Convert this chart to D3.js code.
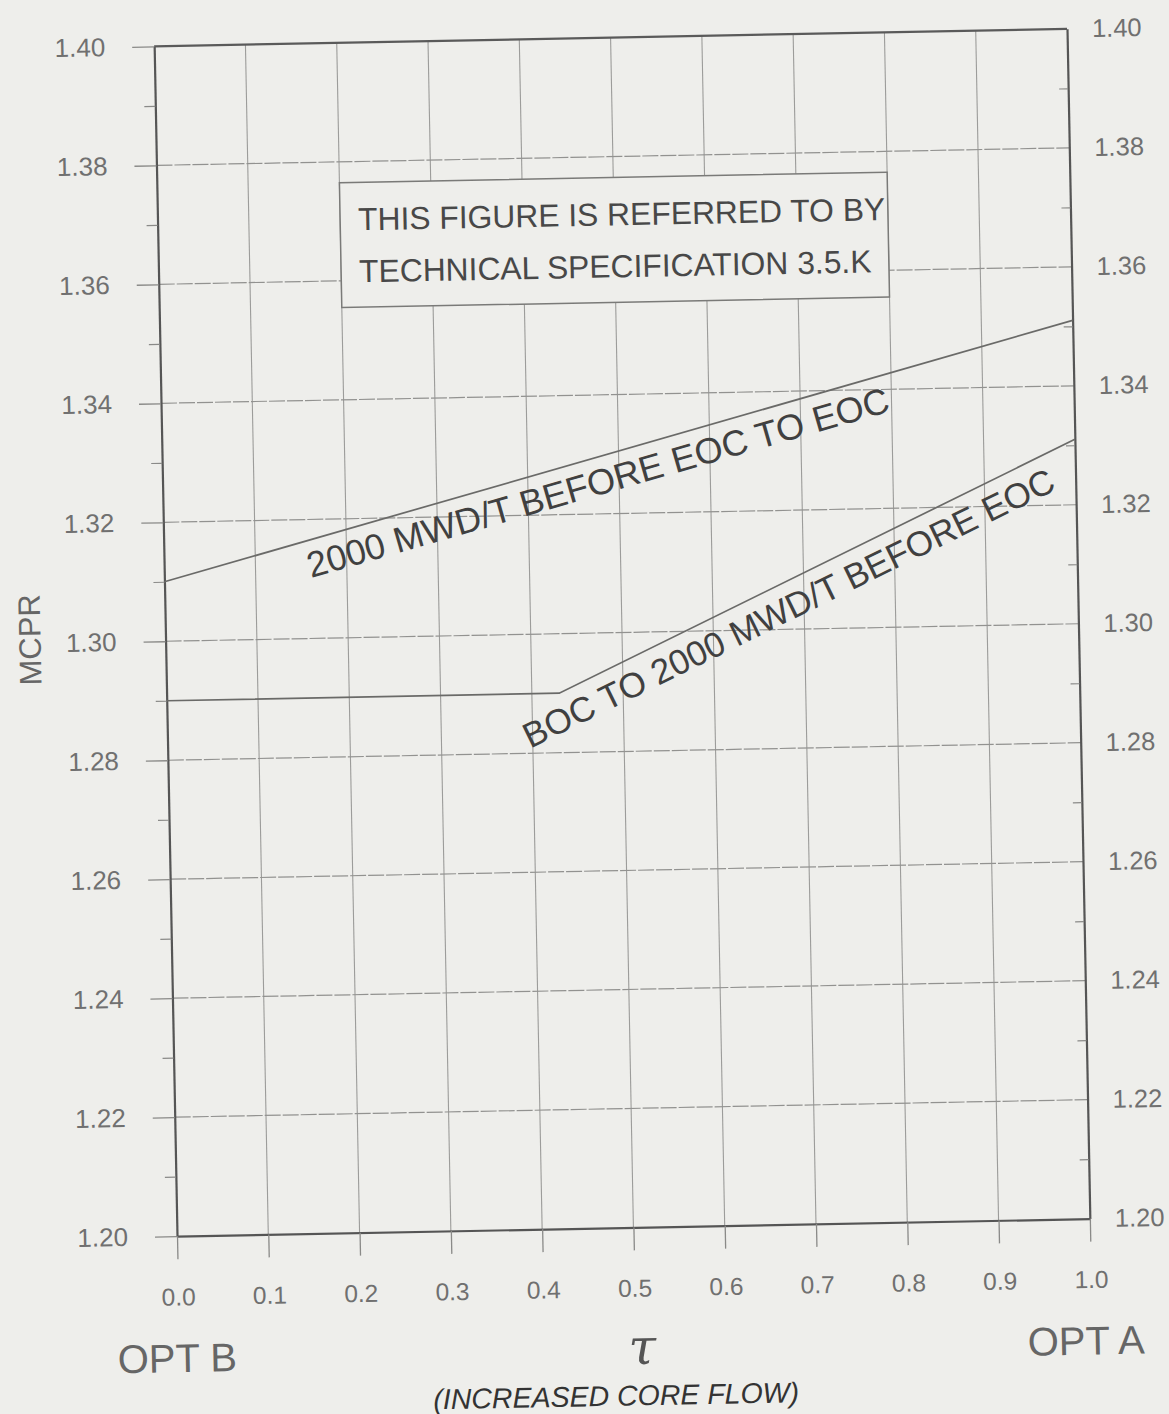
<!DOCTYPE html>
<html><head><meta charset="utf-8">
<script src="https://cdn.jsdelivr.net/npm/d3@7"></script>
<style>
html,body{margin:0;padding:0;background:#eeeeeb;}
svg{display:block;}
text{font-family:"Liberation Sans",Arial,Helvetica,sans-serif;}
</style></head><body>
<svg id="chart" width="1169" height="1414"></svg>
<script>
// ---- data ----
const tauTicks = [0.0,0.1,0.2,0.3,0.4,0.5,0.6,0.7,0.8,0.9,1.0];
const mcprTicks = [1.20,1.22,1.24,1.26,1.28,1.30,1.32,1.34,1.36,1.38,1.40];
const mcprMinorTicks = [1.21,1.23,1.25,1.27,1.29,1.31,1.33,1.35,1.37,1.39];
const series1Name = "2000 MWD/T BEFORE EOC TO EOC";
const series1Tau  = [0.0, 1.0];
const series1MCPR = [1.310, 1.351];
const series2Name = "BOC TO 2000 MWD/T BEFORE EOC";
const series2Tau  = [0.0, 0.43, 1.0];
const series2MCPR = [1.290, 1.290, 1.331];
const noteLines = ["THIS FIGURE IS REFERRED TO BY", "TECHNICAL SPECIFICATION 3.5.K"];
const yTitle = "MCPR";
const xSymbol = "\u03C4";
const xSubtitle = "(INCREASED CORE FLOW)";
const leftEndLabel = "OPT B";
const rightEndLabel = "OPT A";

// ---- layout ----
const W = 1169, H = 1414;
const m = {left:165.5, top:37.5};
const pw = 913, ph = 1190;
const bg = "#eeeeeb";

const svg = d3.select("#chart");
svg.append("rect").attr("width",W).attr("height",H).attr("fill",bg);

const g = svg.append("g").attr("transform","rotate(-1.1 622 632.5)")
  .append("g").attr("transform",`translate(${m.left},${m.top})`);

const x = d3.scaleLinear().domain([0,1]).range([0,pw]);
const y = d3.scaleLinear().domain([1.2,1.4]).range([ph,0]);

// grid
g.append("g").selectAll("line").data(tauTicks.slice(1,-1)).join("line")
  .attr("x1",d=>x(d)).attr("x2",d=>x(d)).attr("y1",0).attr("y2",ph)
  .attr("stroke","#9c9c9a").attr("stroke-width",1.1);
g.append("g").selectAll("line").data(mcprTicks.slice(1,-1)).join("line")
  .attr("x1",0).attr("x2",pw).attr("y1",d=>y(d)).attr("y2",d=>y(d))
  .attr("stroke","#929290").attr("stroke-width",1.2).attr("stroke-dasharray","16 2");

// note box
const bx0 = x(0.2), bx1 = x(0.8), by0 = y(1.3765), by1 = y(1.3555);
g.append("rect").attr("x",bx0).attr("y",by0).attr("width",bx1-bx0).attr("height",by1-by0)
  .attr("fill",bg).attr("stroke","#7a7a78").attr("stroke-width",1.5);
g.append("g").selectAll("text").data(noteLines).join("text")
  .attr("x",bx0+18).attr("y",(d,i)=>by0+48+i*52)
  .attr("font-size",31.8).attr("fill","#484848").text(d=>d);

// axes styling helper
function styleAxis(sel, fs, col){
  sel.attr("font-family",null).attr("font-size",null);
  sel.selectAll("text").attr("font-size",fs).attr("fill",col)
     .style("font-family",'"Liberation Sans",Arial,sans-serif');
  sel.selectAll(".tick line").attr("stroke","#8a8a88").attr("stroke-width",1.3);
}

// left axis
const la = g.append("g").call(d3.axisLeft(y).tickValues(mcprTicks).tickSize(22).tickSizeOuter(0)
  .tickPadding(27).tickFormat(d3.format(".2f")));
styleAxis(la, 26, "#707070");
la.select(".domain").attr("stroke","#555").attr("stroke-width",2.2);
const lm = g.append("g").call(d3.axisLeft(y).tickValues(mcprMinorTicks).tickSize(11).tickFormat(""));
lm.select(".domain").remove();
lm.selectAll(".tick line").attr("stroke","#8a8a88").attr("stroke-width",1.2);

// right axis
const ra = g.append("g").attr("transform",`translate(${pw},0)`)
  .call(d3.axisRight(y).tickValues(mcprTicks).tickSize(0).tickSizeOuter(0)
  .tickPadding(25).tickFormat(d3.format(".2f")));
styleAxis(ra, 25.5, "#707070");
ra.select(".domain").attr("stroke","#555").attr("stroke-width",2.2);
const rm = g.append("g").attr("transform",`translate(${pw},0)`)
  .call(d3.axisRight(y).tickValues(mcprMinorTicks).tickSize(-9).tickFormat(""));
rm.select(".domain").remove();
rm.selectAll(".tick line").attr("stroke","#8a8a88").attr("stroke-width",1.2);

// bottom axis
const ba = g.append("g").attr("transform",`translate(0,${ph})`)
  .call(d3.axisBottom(x).tickValues(tauTicks).tickSize(23).tickSizeOuter(0)
  .tickPadding(29).tickFormat(d3.format(".1f")));
styleAxis(ba, 24.5, "#707070");
ba.select(".domain").attr("stroke","#555").attr("stroke-width",2.2);

// top frame
g.append("line").attr("x1",0).attr("x2",pw).attr("y1",0).attr("y2",0)
  .attr("stroke","#5a5a5a").attr("stroke-width",2.2);

// data lines
const line = d3.line().x(d=>x(d[0])).y(d=>y(d[1]));
const s1 = series1Tau.map((t,i)=>[t,series1MCPR[i]]);
const s2 = series2Tau.map((t,i)=>[t,series2MCPR[i]]);
[s1,s2].forEach(s=>{
  g.append("path").datum(s).attr("d",line).attr("fill","none")
    .attr("stroke","#6a6a68").attr("stroke-width",1.7);
});

// labels along lines
function lineLabel(seg, anchorTau, offset, fs, txt){
  const a = seg[seg.length-2], b = seg[seg.length-1];
  const f = d3.scaleLinear().domain([a[0],b[0]]).range([a[1],b[1]]);
  const ang = Math.atan2(y(b[1])-y(a[1]), x(b[0])-x(a[0]))*180/Math.PI;
  g.append("text")
    .attr("transform",`translate(${x(anchorTau)},${y(f(anchorTau))}) rotate(${ang})`)
    .attr("x",0).attr("y",offset)
    .attr("font-size",fs).attr("fill","#404040").text(txt);
}
lineLabel(s1, 0.150, 37, 36, series1Name);
lineLabel(s2, 0.380, 37, 35, series2Name);

// titles
g.append("text").attr("transform",`translate(-125,${591})rotate(-90)`)
  .attr("text-anchor","middle").attr("font-size",31).attr("fill","#666").text(yTitle);
g.append("text").attr("x",-2).attr("y",1326).attr("text-anchor","middle")
  .attr("font-size",40).attr("fill","#666").text(leftEndLabel);
g.append("text").attr("x",907).attr("y",1326).attr("text-anchor","middle")
  .attr("font-size",40).attr("fill","#666").text(rightEndLabel);
g.append("text").attr("x",463).attr("y",1327).attr("text-anchor","middle")
  .attr("font-size",50).attr("font-style","italic").attr("fill","#555")
  .style("font-family",'"DejaVu Serif","Liberation Serif",serif').text(xSymbol);
g.append("text").attr("x",436).attr("y",1368).attr("text-anchor","middle")
  .attr("font-size",28.5).attr("font-style","italic").attr("fill","#333").text(xSubtitle);
</script>
</body></html>
